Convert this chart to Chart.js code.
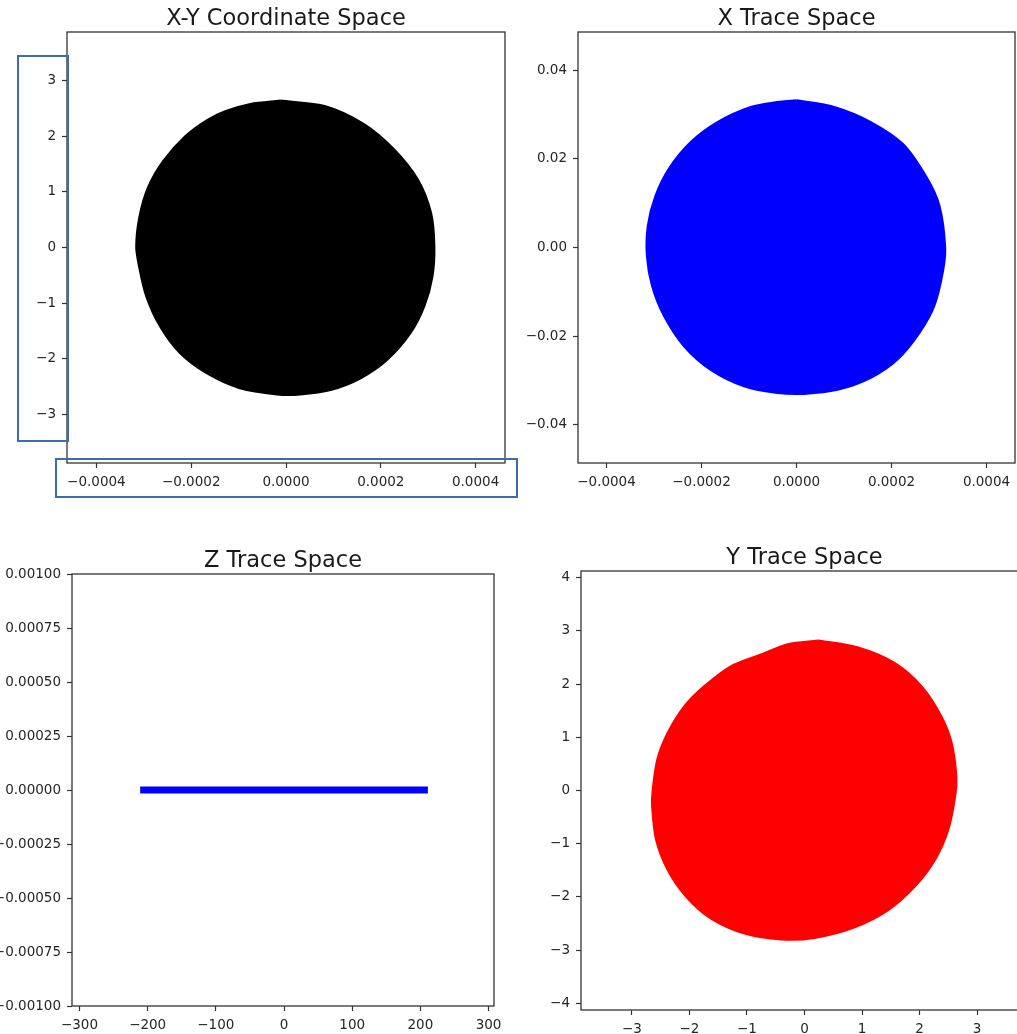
<!DOCTYPE html>
<html>
<head>
<meta charset="utf-8">
<script src="https://cdn.jsdelivr.net/npm/chart.js@4.4.1/dist/chart.umd.min.js"></script>
<style>
    html, body { margin: 0; padding: 0; background: #fff; }
    body { position: relative; width: 1017px; height: 1034px; overflow: hidden; font-family: 'DejaVu Sans', sans-serif; }
    canvas { position: absolute; }
    .mark { position: absolute; box-sizing: border-box; border: 2px solid #3d6cb3; }
</style>
</head>
<body>
<canvas id="xyChart" width="520" height="500" style="left:0;top:0"></canvas>
<canvas id="xTraceChart" width="507" height="500" style="left:510px;top:0"></canvas>
<canvas id="zTraceChart" width="530" height="492" style="left:-20px;top:542px"></canvas>
<canvas id="yTraceChart" width="540" height="495" style="left:505px;top:539px"></canvas>
<div class="mark" style="left:17px;top:55px;width:52px;height:387px"></div>
<div class="mark" style="left:55px;top:458px;width:463px;height:40px"></div>
<script>
// X-Y coordinate space (outline of the black cloud)
const xyEdgeX = [-0.000012, 0.000083, 0.000164, 0.000227, 0.000277, 0.000305, 0.000312, 0.000308, 0.000291, 0.000262,
    0.000213, 0.000157, 0.000094, 0.00003, -0.000019, -0.000097, -0.000167, -0.000223, -0.000265, -0.000294,
    -0.000309, -0.000315, -0.000308, -0.00029, -0.000258, -0.000212, -0.000166, -0.000128, -0.000075];
const xyEdgeY = [2.63, 2.53, 2.21, 1.76, 1.22, 0.62, 0.02, -0.52, -1.05, -1.53,
    -2.01, -2.34, -2.55, -2.63, -2.63, -2.52, -2.25, -1.89, -1.41, -0.87,
    -0.34, 0.02, 0.56, 1.08, 1.55, 1.99, 2.28, 2.44, 2.57];

// X trace space (blue cloud)
const xTraceEdgeX = [0, 0.000079, 0.000156, 0.000224, 0.000274, 0.0003, 0.000312, 0.000307, 0.000289, 0.000258,
    0.000212, 0.000156, 0.000086, 0.000016, -0.00004, -0.00011, -0.00018, -0.000236, -0.000278, -0.000303,
    -0.000314, -0.000312, -0.000296, -0.000268, -0.000222, -0.000166, -0.000096, -0.00004];
const xTraceEdgeY = [0.0331, 0.0316, 0.0282, 0.0232, 0.0156, 0.0094, 0, -0.0056, -0.0132, -0.0192,
    -0.0252, -0.0293, -0.032, -0.0329, -0.0327, -0.0312, -0.0275, -0.0222, -0.0154, -0.0087,
    -0.0019, 0.0049, 0.0116, 0.0177, 0.0237, 0.0282, 0.0316, 0.0327];

// Z trace space (flat line)
const zLineX = [-211, 211];
const zLineY = [0, 0];

// Y trace space (red cloud)
const yTraceEdgeX = [0.23, 0.93, 1.56, 2.03, 2.37, 2.55, 2.63, 2.61, 2.49, 2.26,
    1.91, 1.45, 0.87, 0.17, -0.40, -1.04, -1.62, -2.05, -2.37, -2.57,
    -2.64, -2.63, -2.55, -2.37, -2.08, -1.74, -1.27, -0.75, -0.29];
const yTraceEdgeY = [2.81, 2.68, 2.39, 1.95, 1.39, 0.89, 0.26, -0.11, -0.74, -1.30,
    -1.80, -2.24, -2.56, -2.76, -2.79, -2.68, -2.40, -1.99, -1.49, -0.93,
    -0.30, 0.01, 0.58, 1.08, 1.58, 1.95, 2.33, 2.55, 2.74];

// tick values and labels
const smallXTicks = [-0.0004, -0.0002, 0, 0.0002, 0.0004];
const smallXLabels = ['\u22120.0004', '\u22120.0002', '0.0000', '0.0002', '0.0004'];
const xyYTicks = [-3, -2, -1, 0, 1, 2, 3];
const xyYLabels = ['\u22123', '\u22122', '\u22121', '0', '1', '2', '3'];
const xTraceYTicks = [-0.04, -0.02, 0, 0.02, 0.04];
const xTraceYLabels = ['\u22120.04', '\u22120.02', '0.00', '0.02', '0.04'];
const zXTicks = [-300, -200, -100, 0, 100, 200, 300];
const zXLabels = ['\u2212300', '\u2212200', '\u2212100', '0', '100', '200', '300'];
const zYTicks = [-0.001, -0.00075, -0.0005, -0.00025, 0, 0.00025, 0.0005, 0.00075, 0.001];
const zYLabels = ['\u22120.00100', '\u22120.00075', '\u22120.00050', '\u22120.00025', '0.00000', '0.00025', '0.00050', '0.00075', '0.00100'];
const yTraceXTicks = [-3, -2, -1, 0, 1, 2, 3];
const yTraceXLabels = ['\u22123', '\u22122', '\u22121', '0', '1', '2', '3'];
const yTraceYTicks = [-4, -3, -2, -1, 0, 1, 2, 3, 4];
const yTraceYLabels = ['\u22124', '\u22123', '\u22122', '\u22121', '0', '1', '2', '3', '4'];

const FONT = "'DejaVu Sans', 'Liberation Sans', sans-serif";
const AXIS_COLOR = '#333';
const TEXT_COLOR = '#262626';

const zip = (xs, ys) => xs.map((x, i) => ({ x, y: ys[i] }));
const closed = pts => pts.concat([pts[0]]);

// matplotlib-like box around the plot area
const framePlugin = {
    id: 'frame',
    afterDraw(chart) {
        const { ctx, chartArea: a } = chart;
        ctx.save();
        ctx.strokeStyle = AXIS_COLOR;
        ctx.lineWidth = 1.3;
        ctx.strokeRect(a.left, a.top, a.right - a.left, a.bottom - a.top);
        ctx.restore();
    }
};

function axis(min, max, ticks, labels, fitSize, isX) {
    return {
        type: 'linear',
        position: isX ? 'bottom' : 'left',
        min, max,
        afterBuildTicks: s => { s.ticks = ticks.map(v => ({ value: v })); },
        afterFit: s => { if (isX) s.height = fitSize; else s.width = fitSize; },
        grid: { display: true, drawOnChartArea: false, drawTicks: true, tickLength: 5, tickWidth: 1.2, tickColor: AXIS_COLOR },
        border: { display: false },
        ticks: {
            autoSkip: false,
            maxRotation: 0,
            padding: 6,
            color: TEXT_COLOR,
            font: { family: FONT, size: 13.5 },
            callback: (v, i) => labels[i]
        }
    };
}

function cloud(points, color) {
    return {
        data: closed(points),
        showLine: true,
        fill: 'shape',
        backgroundColor: color,
        borderColor: color,
        borderWidth: 3,
        borderJoinStyle: 'round',
        pointRadius: 0,
        tension: 0.3
    };
}

function makeChart(id, title, datasets, xAxis, yAxis, padRight) {
    return new Chart(document.getElementById(id), {
        type: 'scatter',
        data: { datasets },
        options: {
            responsive: false,
            animation: false,
            events: [],
            layout: { padding: { left: 0, right: padRight, top: 0, bottom: 0 } },
            plugins: {
                legend: { display: false },
                tooltip: { enabled: false },
                title: {
                    display: true,
                    text: title,
                    fullSize: false,
                    color: '#1a1a1a',
                    font: { family: FONT, size: 22.5, weight: 'normal', lineHeight: '26px' },
                    padding: { top: 6, bottom: 0 }
                }
            },
            scales: { x: xAxis, y: yAxis }
        },
        plugins: [framePlugin]
    });
}

makeChart('xyChart', 'X-Y Coordinate Space',
    [cloud(zip(xyEdgeX, xyEdgeY), '#000000')],
    axis(-0.000462, 0.000462, smallXTicks, smallXLabels, 37, true),
    axis(-3.87, 3.87, xyYTicks, xyYLabels, 67, false),
    15);

makeChart('xTraceChart', 'X Trace Space',
    [cloud(zip(xTraceEdgeX, xTraceEdgeY), '#0000ff')],
    axis(-0.00046, 0.00046, smallXTicks, smallXLabels, 37, true),
    axis(-0.0486, 0.0486, xTraceYTicks, xTraceYLabels, 68, false),
    2);

makeChart('zTraceChart', 'Z Trace Space',
    [{
        data: zip(zLineX, zLineY),
        showLine: true,
        borderColor: '#0000ff',
        borderWidth: 7,
        borderCapStyle: 'butt',
        pointRadius: 0
    }],
    axis(-311, 308, zXTicks, zXLabels, 28, true),
    axis(-0.001, 0.001, zYTicks, zYLabels, 92, false),
    16);

makeChart('yTraceChart', 'Y Trace Space',
    [cloud(zip(yTraceEdgeX, yTraceEdgeY), '#ff0000')],
    axis(-3.884, 3.884, yTraceXTicks, yTraceXLabels, 24, true),
    axis(-4.124, 4.124, yTraceYTicks, yTraceYLabels, 76, false),
    17);
</script>
</body>
</html>
